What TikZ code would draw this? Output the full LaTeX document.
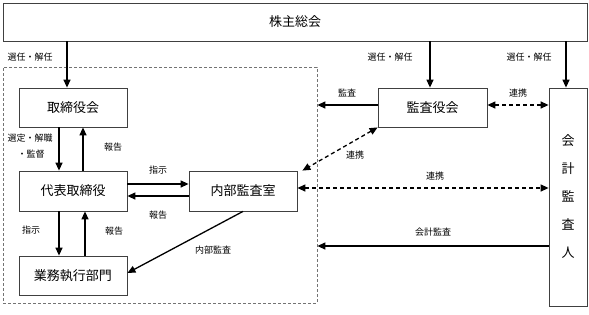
\documentclass[tikz,border=0pt]{standalone}
\usepackage{fontspec}
\setmainfont{Noto Sans CJK JP}
\usetikzlibrary{arrows.meta}
\begin{document}
\begin{tikzpicture}[x=1pt,y=-1pt,
 box/.style={draw=black!75, line width=0.8pt, fill=white, inner sep=0pt, font=\fontsize{13}{15}\selectfont},
 arr/.style={line width=1.3pt, -{Triangle[length=8pt,width=7pt]}},
 darr/.style={line width=1.3pt, dash pattern=on 4pt off 3pt, {Triangle[length=8pt,width=7pt]}-{Triangle[length=8pt,width=7pt]}},
 lbl/.style={font=\fontsize{9}{10}\selectfont, inner sep=0pt}]
\useasboundingbox (0,0) rectangle (589,314);
% group frame
\node[draw=black!55, line width=0.8pt, dash pattern=on 3pt off 2pt, minimum width=314pt, minimum height=236pt, inner sep=0pt] (grp) at (160,185) {};
% boxes
\node[box, minimum width=584pt, minimum height=38pt] (sh) at (295,22) {株主総会};
\node[box, minimum width=108pt, minimum height=39pt] (tb) at (73,107.5) {取締役会};
\node[box, minimum width=108pt, minimum height=40pt] (dh) at (73,191) {代表取締役};
\node[box, minimum width=108pt, minimum height=39pt] (gy) at (73,275.5) {業務執行部門};
\node[box, minimum width=108pt, minimum height=40pt] (nb) at (243,191) {内部監査室};
\node[box, minimum width=109pt, minimum height=39pt] (ka) at (432.5,107.5) {監査役会};
\node[box, minimum width=38pt, minimum height=218pt, align=center, font=\fontsize{13}{28}\selectfont] (kk) at (568,197) {会\\計\\監\\査\\人};
% arrows from shareholders
\draw[arr] (sh.south -| 67,0) -- (tb.north -| 67,0);
\draw[arr] (sh.south -| 430,0) -- (ka.north -| 430,0);
\draw[arr] (sh.south -| 566,0) -- (kk.north -| 566,0);
% board <-> representative
\draw[arr] (tb.south -| 59,0) -- (dh.north -| 59,0);
\draw[arr] (dh.north -| 83,0) -- (tb.south -| 83,0);
% representative <-> business
\draw[arr] (dh.south -| 59,0) -- (gy.north -| 59,0);
\draw[arr] (gy.north -| 85,0) -- (dh.south -| 85,0);
% representative <-> internal audit
\draw[arr] (dh.east |- 0,184) -- (nb.west |- 0,184);
\draw[arr] (nb.west |- 0,196) -- (dh.east |- 0,196);
% internal audit -> business
\draw[arr] (nb.south) -- (gy.east |- 0,273);
% audit board
\draw[arr] (ka.west |- 0,105) -- (grp.east |- 0,105);
\draw[darr] (ka.east |- 0,105) -- (kk.west |- 0,105);
\draw[darr] (ka.south west) -- ([xshift=5pt]nb.north east);
% internal audit <-> accounting auditor
\draw[darr] (nb.east |- 0,188) -- (kk.west |- 0,188);
\draw[arr] (kk.west |- 0,246) -- (grp.east |- 0,246);
% labels
\node[lbl] (l1) at (30,57) {選任・解任};
\node[lbl] (l2) at (390,57) {選任・解任};
\node[lbl] (l3) at (529,57) {選任・解任};
\node[lbl] (l4) at (30,138) {選定・解職};
\node[lbl] (l5) at (31,154) {・監督};
\node[lbl] (l6) at (113,147) {報告};
\node[lbl] (l7) at (31,230) {指示};
\node[lbl] (l8) at (114,231) {報告};
\node[lbl] (l9) at (158,170) {指示};
\node[lbl] (l10) at (158,215) {報告};
\node[lbl] (l11) at (213,250) {内部監査};
\node[lbl] (l12) at (347,93) {監査};
\node[lbl] (l13) at (518,93) {連携};
\node[lbl] (l14) at (355,155) {連携};
\node[lbl] (l15) at (435,176) {連携};
\node[lbl] (l16) at (433,232) {会計監査};
\end{tikzpicture}
\end{document}
